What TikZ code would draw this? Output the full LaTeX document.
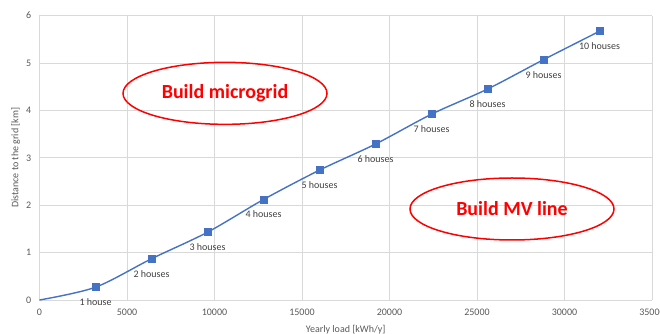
\documentclass[tikz,border=0pt]{standalone}
\usepackage{fontspec}
\setmainfont{Carlito}
\usepackage{tikz}
\usetikzlibrary{positioning}
\usetikzlibrary{shapes.geometric}
\usepackage{color}
\definecolor{seriesblue}{RGB}{68, 114, 196}
\definecolor{gridgray}{RGB}{217, 217, 217}
\definecolor{tickgray}{RGB}{89, 89, 89}
\definecolor{labelgray}{RGB}{64, 64, 64}
\definecolor{regionred}{RGB}{255, 0, 0}

\begin{document}
\begin{tikzpicture}[x=17.5pt, y=47.4pt,
    gridline/.style={color=gridgray, line width=0.75pt},
    ticklabel/.style={color=tickgray, font=\fontsize{10}{11}\selectfont, inner sep=1pt},
    housemark/.style={fill=seriesblue, inner sep=0pt, minimum size=8pt},
    houselabel/.style={color=labelgray, font=\fontsize{10}{11}\selectfont, inner sep=1pt},
    region/.style={ellipse, draw=regionred, line width=1.5pt, text=regionred,
                   font=\fontsize{20}{22}\selectfont\bfseries,
                   minimum width=204pt, minimum height=62pt}]
    % Frame to fix the page size:
    \useasboundingbox (-39.5pt,-33pt) rectangle (620.5pt,300pt);
    % Grid
    \foreach \gx in {0,5,...,35} \draw[gridline] (\gx,0) -- (\gx,6);
    \foreach \gy in {0,...,6}    \draw[gridline] (0,\gy) -- (35,\gy);
    % Tick labels
    \foreach \gx/\gt in {0/0,5/5000,10/10000,15/15000,20/20000,25/25000,30/30000,35/35000}
        \node[ticklabel, anchor=north] (xt\gx) at ([yshift=-8pt]\gx,0) {\gt};
    \foreach \gy in {0,...,6}
        \node[ticklabel, anchor=east]  (yt\gy) at ([xshift=-7pt]0,\gy) {\gy};
    % Axis titles
    \node[ticklabel, rotate=90]        (ytitle) at ([xshift=-24pt]0,3) {Distance to the grid [km]};
    \node[ticklabel, anchor=north]     (xtitle) at ([yshift=-24pt]17.5,0) {Yearly load [kWh/y]};
    % Houses: load in thousand kWh/y, distance in km
    \coordinate (c0) at (0,0);
    \foreach \n/\dist in {1/0.27,2/0.87,3/1.43,4/2.12,5/2.74,6/3.29,7/3.92,8/4.45,9/5.07,10/5.67}
        \coordinate (c\n) at ({3.2*\n},\dist);
    \draw[color=seriesblue, line width=1.4pt] plot[smooth, tension=0.5]
        coordinates {(c0) (c1) (c2) (c3) (c4) (c5) (c6) (c7) (c8) (c9) (c10)};
    \node[housemark] (p1) at (c1) {};
    \node[houselabel, below=6pt of p1] (l1) {1 house};
    \foreach \n in {2,...,10} {
        \node[housemark] (p\n) at (c\n) {};
        \node[houselabel, below=6pt of p\n] (l\n) {\n\ houses};
    }
    % Decision regions
    \node[region] (microgrid) at (10.6,4.36) {Build microgrid};
    \node[region] (mvline)    at (27.0,1.92) {Build MV line};
\end{tikzpicture}
\end{document}
